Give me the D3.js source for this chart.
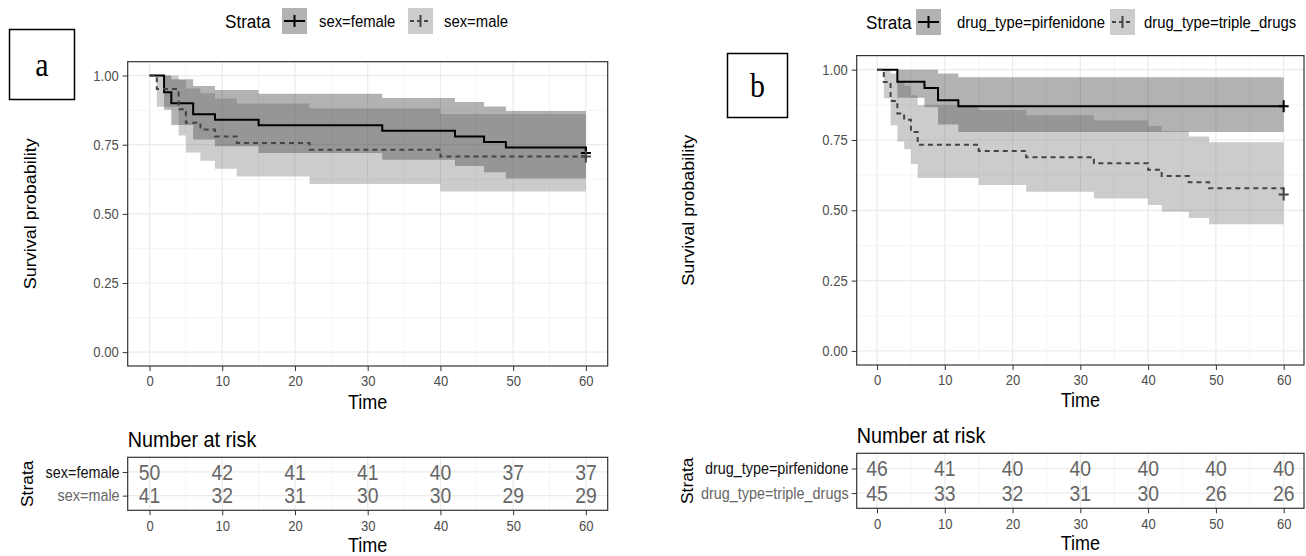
<!DOCTYPE html>
<html>
<head>
<meta charset="utf-8">
<script src="https://cdn.jsdelivr.net/npm/d3@7"></script>
<style>
  body { margin: 0; background: #fff; }
  text { font-family: "Liberation Sans", Arial, sans-serif; }
</style>
</head>
<body>
<svg id="chart" width="1306" height="556"></svg>
<script>
var timeTicks = [0, 10, 20, 30, 40, 50, 60]
var survTicks = [0, 0.25, 0.5, 0.75, 1]

// panel a : sex
var sexStrata = ["sex=female", "sex=male"]
var femaleTime  = [0, 2, 3, 6, 9, 15, 32, 42, 46, 49, 60]
var femaleSurv  = [1, 0.94, 0.90, 0.86, 0.84, 0.82, 0.80, 0.78, 0.76, 0.74, 0.72]
var femaleLower = [1, 0.876, 0.821, 0.769, 0.744, 0.720, 0.696, 0.673, 0.650, 0.628, 0.606]
var femaleUpper = [1, 1, 0.987, 0.962, 0.948, 0.934, 0.919, 0.904, 0.888, 0.872, 0.856]
var maleTime  = [0, 1, 4, 5, 7, 9, 12, 22, 40]
var maleSurv  = [1, 0.951, 0.878, 0.829, 0.805, 0.780, 0.756, 0.732, 0.707]
var maleLower = [1, 0.887, 0.783, 0.722, 0.692, 0.663, 0.635, 0.608, 0.581]
var maleUpper = [1, 1, 0.984, 0.953, 0.936, 0.917, 0.899, 0.881, 0.861]
var sexRisk = [[50, 42, 41, 41, 40, 37, 37], [41, 32, 31, 30, 30, 29, 29]]

// panel b : drug type
var drugStrata = ["drug_type=pirfenidone", "drug_type=triple_drugs"]
var pirfTime  = [0, 3, 7, 9, 12]
var pirfSurv  = [1, 0.957, 0.935, 0.891, 0.870]
var pirfLower = [1, 0.900, 0.866, 0.805, 0.778]
var pirfUpper = [1, 1, 1, 0.986, 0.973]
var tripleTime  = [0, 1, 2, 3, 4, 5, 6, 15, 22, 32, 40, 42, 46, 49, 60]
var tripleSurv  = [1, 0.956, 0.889, 0.844, 0.822, 0.778, 0.733, 0.711, 0.689, 0.667, 0.644, 0.622, 0.600, 0.578, 0.556]
var tripleLower = [1, 0.898, 0.802, 0.745, 0.718, 0.665, 0.615, 0.590, 0.566, 0.542, 0.519, 0.495, 0.473, 0.450, 0.428]
var tripleUpper = [1, 1, 0.986, 0.957, 0.942, 0.909, 0.874, 0.857, 0.838, 0.819, 0.800, 0.781, 0.762, 0.742, 0.722]
var drugRisk = [[46, 41, 40, 40, 40, 40, 40], [45, 33, 32, 31, 30, 26, 26]]

var censorTime = 60
var SX = 0.9   // text in the picture is a bit narrow

var svg = d3.select("#chart")

function txt(g, x, y, s, size, opt) {
  opt = opt || {}
  var tr = "translate(" + x + "," + y + ")"
  if (opt.rotate) tr += " rotate(-90) scale(1," + SX + ")"
  else tr += " scale(" + (opt.sx || SX) + ",1)"
  return g.append("text")
    .attr("transform", tr)
    .attr("font-size", size)
    .attr("fill", opt.color || "#000")
    .attr("text-anchor", opt.anchor || "start")
    .attr("dy", opt.dy || "0.35em")
    .style("font-family", opt.family || null)
    .text(s)
}

function makeStrata(names, sets, risk) {
  var looks = [
    { stroke: "#000", dash: null, fill: "#000", labelColor: "#111" },
    { stroke: "#444", dash: "5,4", fill: "#555", labelColor: "#666" }
  ]
  return sets.map(function(d, i) {
    return Object.assign({ name: names[i], time: d[0], surv: d[1], lower: d[2], upper: d[3], risk: risk[i] }, looks[i])
  })
}

function styleAxis(ax, size) {
  ax.select(".domain").remove()
  ax.selectAll(".tick line").attr("stroke", "#333").attr("stroke-width", 1)
  ax.selectAll(".tick text")
    .attr("font-size", size)
    .attr("fill", "#4d4d4d")
    .style("font-family", "'Liberation Sans', Arial, sans-serif")
    .attr("transform", "scale(" + SX + ",1)")
}

function drawPanel(p) {
  var g = svg.append("g")
  var x = d3.scaleLinear().domain([-3, 63]).range([p.left, p.right])
  var y = d3.scaleLinear().domain([-0.05, 1.05]).range([p.bottom, p.top])
  var minorX = d3.pairs(timeTicks).map(function(d) { return (d[0] + d[1]) / 2 })
  var minorY = d3.pairs(survTicks).map(function(d) { return (d[0] + d[1]) / 2 })

  // grid
  g.selectAll(".minx").data(minorX).enter().append("line")
    .attr("x1", x).attr("x2", x).attr("y1", p.top).attr("y2", p.bottom)
    .attr("stroke", "#f2f2f2").attr("stroke-width", 0.8)
  g.selectAll(".miny").data(minorY).enter().append("line")
    .attr("y1", y).attr("y2", y).attr("x1", p.left).attr("x2", p.right)
    .attr("stroke", "#f2f2f2").attr("stroke-width", 0.8)
  g.selectAll(".majx").data(timeTicks).enter().append("line")
    .attr("x1", x).attr("x2", x).attr("y1", p.top).attr("y2", p.bottom)
    .attr("stroke", "#ebebeb").attr("stroke-width", 1.2)
  g.selectAll(".majy").data(survTicks).enter().append("line")
    .attr("y1", y).attr("y2", y).attr("x1", p.left).attr("x2", p.right)
    .attr("stroke", "#ebebeb").attr("stroke-width", 1.2)

  var area = d3.area().curve(d3.curveStepAfter)
    .x(function(d) { return x(d.t) })
    .y0(function(d) { return y(d.lo) })
    .y1(function(d) { return y(d.hi) })
  var line = d3.line().curve(d3.curveStepAfter)
    .x(function(d) { return x(d.t) })
    .y(function(d) { return y(d.s) })

  p.strata.forEach(function(s) {
    var pts = s.time.map(function(t, i) {
      return { t: t, s: s.surv[i], lo: s.lower[i], hi: s.upper[i] }
    })
    var last = pts[pts.length - 1]
    pts.push({ t: censorTime, s: last.s, lo: last.lo, hi: last.hi })
    s.pts = pts
    g.append("path").attr("d", area(pts))
      .attr("fill", s.fill).attr("fill-opacity", 0.3)
  })

  p.strata.forEach(function(s) {
    g.append("path").attr("d", line(s.pts))
      .attr("fill", "none").attr("stroke", s.stroke)
      .attr("stroke-width", 2).attr("stroke-dasharray", s.dash)
    var cx = x(censorTime), cy = y(s.pts[s.pts.length - 1].s)
    g.append("path")
      .attr("d", "M" + (cx - 5) + "," + cy + "H" + (cx + 5) + "M" + cx + "," + (cy - 6) + "V" + (cy + 6))
      .attr("stroke", s.stroke).attr("stroke-width", 2)
  })

  g.append("rect")
    .attr("x", p.left).attr("y", p.top)
    .attr("width", p.right - p.left).attr("height", p.bottom - p.top)
    .attr("fill", "none").attr("stroke", "#333").attr("stroke-width", 1.2)

  var ax = g.append("g").attr("transform", "translate(0," + p.bottom + ")")
    .call(d3.axisBottom(x).tickValues(timeTicks).tickSize(5).tickPadding(5))
  styleAxis(ax, 14.5)
  var ay = g.append("g").attr("transform", "translate(" + p.left + ",0)")
    .call(d3.axisLeft(y).tickValues(survTicks).tickFormat(d3.format(".2f")).tickSize(5).tickPadding(5))
  styleAxis(ay, 14.5)

  txt(g, (p.left + p.right) / 2, p.xTitleY, "Time", 20, { anchor: "middle" })
  txt(g, p.yTitleX, (p.top + p.bottom) / 2, "Survival probability", 18, { anchor: "middle", rotate: true })

  // legend
  var lg = g.append("g")
  txt(lg, p.legend.strataX, p.legend.y + 13, "Strata", 19)
  p.strata.forEach(function(s, i) {
    var it = p.legend.items[i], kw = 25, kh = 26
    lg.append("rect").attr("x", it.key).attr("y", p.legend.y)
      .attr("width", kw).attr("height", kh)
      .attr("fill", s.fill).attr("fill-opacity", 0.3)
    var cy = p.legend.y + kh / 2
    lg.append("line").attr("x1", it.key + 2).attr("x2", it.key + kw - 2)
      .attr("y1", cy).attr("y2", cy)
      .attr("stroke", s.stroke).attr("stroke-width", 2).attr("stroke-dasharray", s.dash ? "4,3" : null)
    lg.append("line").attr("x1", it.key + kw / 2).attr("x2", it.key + kw / 2)
      .attr("y1", cy - 6).attr("y2", cy + 6)
      .attr("stroke", s.stroke).attr("stroke-width", 2)
    txt(lg, it.label, cy, s.name, 16.5)
  })

  // panel letter
  g.append("rect").attr("x", p.letter[0]).attr("y", p.letter[1])
    .attr("width", p.letter[2]).attr("height", p.letter[3])
    .attr("fill", "#fff").attr("stroke", "#000").attr("stroke-width", 1.5)
  txt(g, p.letter[0] + p.letter[2] / 2, p.letter[1] + p.letter[3] / 2, p.letterText, 34,
    { anchor: "middle", family: "'Liberation Serif', 'Times New Roman', serif", sx: 0.88 })

  drawTable(p, x)
}

function drawTable(p, x) {
  var g = svg.append("g")
  var t = p.table
  var rows = d3.scalePoint().domain(p.strata.map(function(s) { return s.name }))
    .range([t.top, t.bottom]).padding(0.62)
  var minorX = d3.pairs(timeTicks).map(function(d) { return (d[0] + d[1]) / 2 })

  g.selectAll(".tminx").data(minorX).enter().append("line")
    .attr("x1", x).attr("x2", x).attr("y1", t.top).attr("y2", t.bottom)
    .attr("stroke", "#f2f2f2").attr("stroke-width", 0.8)
  g.selectAll(".tmajx").data(timeTicks).enter().append("line")
    .attr("x1", x).attr("x2", x).attr("y1", t.top).attr("y2", t.bottom)
    .attr("stroke", "#ebebeb").attr("stroke-width", 1.2)
  g.selectAll(".trow").data(rows.domain()).enter().append("line")
    .attr("y1", rows).attr("y2", rows).attr("x1", p.left).attr("x2", p.right)
    .attr("stroke", "#ebebeb").attr("stroke-width", 1.2)

  p.strata.forEach(function(s) {
    g.selectAll(null).data(s.risk).enter().append("text")
      .attr("transform", function(d, i) {
        return "translate(" + x(timeTicks[i]) + "," + rows(s.name) + ") scale(" + SX + ",1)"
      })
      .attr("text-anchor", "middle").attr("dy", "0.36em")
      .attr("font-size", 21.5).attr("fill", "#666")
      .text(function(d) { return d })
  })

  g.append("rect")
    .attr("x", p.left).attr("y", t.top)
    .attr("width", p.right - p.left).attr("height", t.bottom - t.top)
    .attr("fill", "none").attr("stroke", "#333").attr("stroke-width", 1.2)

  var ax = g.append("g").attr("transform", "translate(0," + t.bottom + ")")
    .call(d3.axisBottom(x).tickValues(timeTicks).tickSize(5).tickPadding(5))
  styleAxis(ax, 14.5)

  var ay = g.append("g").attr("transform", "translate(" + p.left + ",0)")
    .call(d3.axisLeft(rows).tickSize(5).tickPadding(4))
  ay.select(".domain").remove()
  ay.selectAll(".tick line").attr("stroke", "#333")
  ay.selectAll(".tick text")
    .attr("font-size", 16)
    .style("font-family", "'Liberation Sans', Arial, sans-serif")
    .attr("fill", function(d, i) { return p.strata[i].labelColor })
    .attr("transform", "scale(" + SX + ",1)")

  txt(g, p.left, t.titleY, "Number at risk", 22, { dy: "0" })
  txt(g, (p.left + p.right) / 2, t.timeY, "Time", 20, { anchor: "middle" })
  txt(g, t.strataX, (t.top + t.bottom) / 2, "Strata", 17.5, { anchor: "middle", rotate: true })
}

drawPanel({
  left: 127.7, right: 607.7, top: 61.7, bottom: 366,
  xTitleY: 402, yTitleX: 30,
  strata: makeStrata(sexStrata, [
    [femaleTime, femaleSurv, femaleLower, femaleUpper],
    [maleTime, maleSurv, maleLower, maleUpper]
  ], sexRisk),
  legend: { y: 8, strataX: 225, items: [{ key: 282, label: 319 }, { key: 408, label: 444 }] },
  letter: [9.5, 29.5, 65, 70], letterText: "a",
  table: { top: 457.3, bottom: 510.3, titleY: 447, timeY: 545, strataX: 27 }
})

drawPanel({
  left: 856.7, right: 1304, top: 55.6, bottom: 365,
  xTitleY: 400, yTitleX: 688,
  strata: makeStrata(drugStrata, [
    [pirfTime, pirfSurv, pirfLower, pirfUpper],
    [tripleTime, tripleSurv, tripleLower, tripleUpper]
  ], drugRisk),
  legend: { y: 9, strataX: 866, items: [{ key: 916, label: 957 }, { key: 1110, label: 1144 }] },
  letter: [727.5, 53.5, 60, 64], letterText: "b",
  table: { top: 453.3, bottom: 508.3, titleY: 443, timeY: 543, strataX: 687 }
})
</script>
</body>
</html>
